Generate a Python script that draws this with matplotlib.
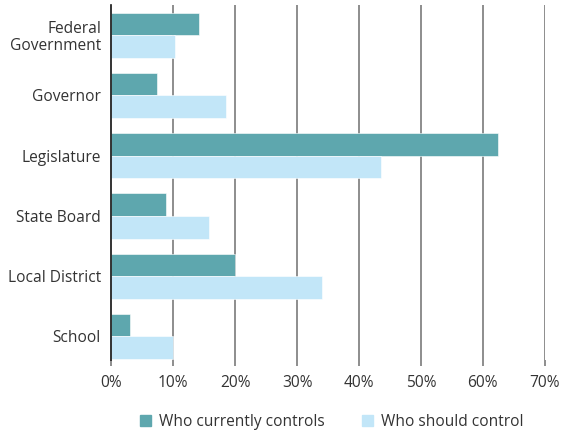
import matplotlib

matplotlib.use("Agg")
import matplotlib.pyplot as plt
from matplotlib.patches import Patch
import numpy as np

plt.rcParams["font.family"] = ["Open Sans", "DejaVu Sans"]

# 数据：百分比
categories = ["Federal\nGovernment", "Governor", "Legislature", "State Board", "Local District", "School"]
currently_controls = [14.2, 7.4, 62.5, 8.8, 20.0, 3.0]
should_control = [10.3, 18.6, 43.5, 15.8, 34.1, 9.9]
x_ticks = [0, 10, 20, 30, 40, 50, 60, 70]
x_labels = [f"{t}%" for t in x_ticks]

COLOR_NOW = "#5ea7ae"
COLOR_SHOULD = "#c2e6f8"
TEXT = "#333333"
GRID = "#7a7a7a"
FS = 11.2

fig = plt.figure(figsize=(5.63, 4.33), dpi=100)
ax = fig.add_axes([111.3 / 563, 1 - 360 / 433, (544.7 - 111.3) / 563, 355 / 433])

y = np.arange(len(categories))
h = 0.375
ax.barh(y - h / 2, currently_controls, height=h, color=COLOR_NOW, edgecolor="white", linewidth=0.4, zorder=3)
ax.barh(y + h / 2, should_control, height=h, color=COLOR_SHOULD, edgecolor="white", linewidth=0.4, zorder=3)

ax.set_xlim(0, 70)
ax.set_ylim(5.39, -0.5)
ax.set_xticks(x_ticks)
ax.set_xticklabels(x_labels, color=TEXT, fontsize=FS)
ax.set_yticks(y)
ax.set_yticklabels(categories, color=TEXT, fontsize=FS, linespacing=1.05)
ax.tick_params(axis="y", length=0, pad=7.5)
ax.tick_params(axis="x", length=4, width=1.2, color=GRID, pad=7)

for t in x_ticks[1:]:
    ax.axvline(t, color=GRID, linewidth=1.2, zorder=1)
for side in ["top", "right", "bottom"]:
    ax.spines[side].set_visible(False)
ax.spines["left"].set_color("#111111")
ax.spines["left"].set_linewidth(1.2)
ax.spines["left"].set_zorder(4)

handles = [Patch(color=COLOR_NOW, label="Who currently controls"),
           Patch(color=COLOR_SHOULD, label="Who should control")]
fig.legend(handles=handles, loc="center", bbox_to_anchor=(0.589, 1 - 422 / 433), ncol=2, frameon=False,
           fontsize=FS, handlelength=0.7, handleheight=0.7, handletextpad=0.5, columnspacing=2.4,
           labelcolor=TEXT)

fig.savefig("out.png", dpi=100)
